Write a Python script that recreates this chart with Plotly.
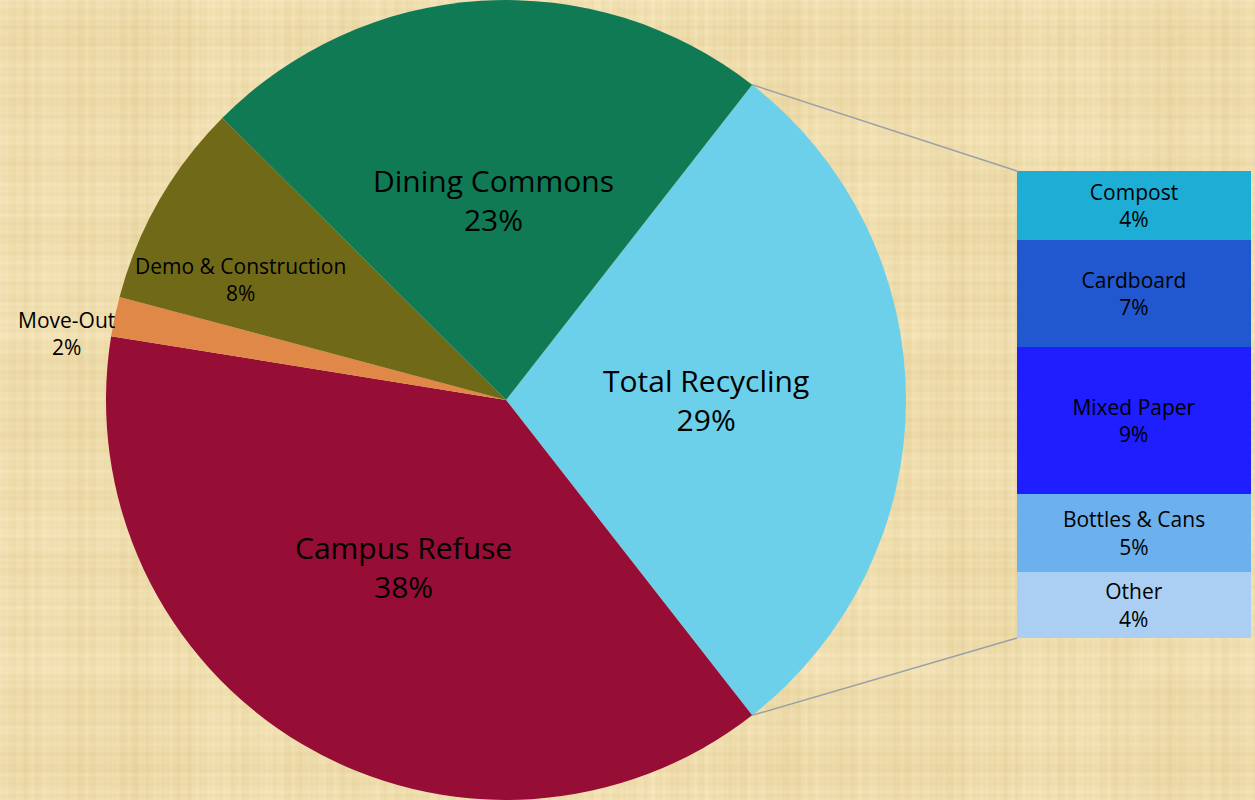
import math
import zlib
import struct
import base64
import numpy as np
import plotly.graph_objects as go

# ---- data ----
pie_labels = ["Total Recycling", "Campus Refuse", "Move-Out", "Demo & Construction", "Dining Commons"]
pie_values = [28.9, 38.1, 1.6, 8.3, 23.1]
pie_colors = ["#6DD0EA", "#960D35", "#E08848", "#706A18", "#107A55"]

bar_labels = ["Compost", "Cardboard", "Mixed Paper", "Bottles & Cans", "Other"]
bar_values = [4.3, 6.6, 9.1, 4.8, 4.1]
bar_colors = ["#1EAED5", "#2158D0", "#1E1EFF", "#6DB0EE", "#AACFF2"]

# ---- layout geometry ----
W, H = 1255, 800
FONT = "Open Sans"
pie_cx_px, pie_r_px = 506, 400
pie_dom_x = [(pie_cx_px - pie_r_px) / W, (pie_cx_px + pie_r_px) / W]
pie_dom_y = [0, 1]
bar_dom_x = [1017 / W, 1251 / W]
bar_dom_y = [(H - 638) / H, (H - 171) / H]


# ---- parchment background texture (deterministic pattern) ----
def make_texture(w, h):
    xs = np.arange(w, dtype=float)
    ys = np.arange(h, dtype=float)
    col = (2.2 * np.sin(xs * 0.91) + 2.0 * np.sin(xs * 2.37 + 1.0) + 1.6 * np.sin(xs * 0.23 + 2.0)
           + 1.4 * np.sin(xs * 5.13 + 0.4) + 1.0 * np.sin(xs * 0.061 + 0.7))
    row = (2.2 * np.sin(ys * 0.83 + 0.5) + 2.0 * np.sin(ys * 2.11 + 2.2) + 1.6 * np.sin(ys * 0.19 + 1.3)
           + 1.4 * np.sin(ys * 4.71 + 0.9) + 1.0 * np.sin(ys * 0.071 + 2.9))
    tile = ((np.floor(xs / 95)[None, :] + np.floor(ys / 85)[:, None]) % 2) * 2.0 - 1.0
    shade = col[None, :] + row[:, None] + tile * 1.0
    base = np.array([239.0, 221.0, 173.0])
    scale = np.array([0.8, 1.0, 1.6])
    img = base[None, None, :] + shade[:, :, None] * scale[None, None, :]
    img = np.clip(img, 0, 255).astype(np.uint8)
    raw = b"".join(b"\x00" + img[r].tobytes() for r in range(h))

    def chunk(t, d):
        c = struct.pack(">I", len(d)) + t + d
        return c + struct.pack(">I", zlib.crc32(t + d) & 0xFFFFFFFF)

    png = (b"\x89PNG\r\n\x1a\n" + chunk(b"IHDR", struct.pack(">IIBBBBB", w, h, 8, 2, 0, 0, 0))
           + chunk(b"IDAT", zlib.compress(raw, 9)) + chunk(b"IEND", b""))
    return "data:image/png;base64," + base64.b64encode(png).decode()


bg_src = make_texture(628, 400)

total = sum(pie_values)
rec_share = pie_values[0] / total
rotation = 90 - rec_share * 360 / 2

fig = go.Figure()
fig.add_trace(go.Pie(
    labels=pie_labels, values=pie_values, sort=False, direction="clockwise",
    rotation=rotation, marker=dict(colors=pie_colors, line=dict(width=0)),
    textinfo="none", hoverinfo="label+percent", showlegend=False,
    domain=dict(x=pie_dom_x, y=pie_dom_y),
))

for lab, v, c in zip(bar_labels, bar_values, bar_colors):
    fig.add_trace(go.Bar(
        x=[0], y=[v], width=[1], marker=dict(color=c, line=dict(width=0)),
        text=[f"{lab}<br>{v:.0f}%"], textposition="inside", insidetextanchor="middle",
        textfont=dict(family=FONT, size=21, color="black"), textangle=0,
        showlegend=False, hoverinfo="text", xaxis="x", yaxis="y",
    ))

# pie label annotations placed along each slice's bisector
cx = (pie_dom_x[0] + pie_dom_x[1]) / 2
cy = (pie_dom_y[0] + pie_dom_y[1]) / 2
r_frac = {"Total Recycling": 0.5, "Campus Refuse": 0.49, "Move-Out": 1.11,
          "Demo & Construction": 0.73, "Dining Commons": 0.5}
a_off = {"Total Recycling": 0, "Campus Refuse": 1, "Move-Out": -3.5,
         "Demo & Construction": -5.5, "Dining Commons": 0}
sizes = {"Total Recycling": 30, "Campus Refuse": 30, "Move-Out": 21,
         "Demo & Construction": 21, "Dining Commons": 30}
ang = rotation
annotations = []
for lab, v in zip(pie_labels, pie_values):
    span = v / total * 360
    mid = math.radians(ang + span / 2 + a_off[lab])
    ang += span
    rr = pie_r_px * r_frac[lab]
    px = pie_cx_px + rr * math.sin(mid)
    py = H * (1 - cy) - rr * math.cos(mid)
    annotations.append(dict(
        x=px / W, y=1 - py / H, xref="paper", yref="paper", showarrow=False,
        text=f"{lab}<br>{v:.0f}%", font=dict(family=FONT, size=sizes[lab], color="black"),
        xanchor="center", yanchor="middle",
    ))

# connector lines from the recycling slice edges to the bar
shapes = []
a_start = math.radians(rotation)
a_end = math.radians(rotation + rec_share * 360)
for a, by in [(a_start, bar_dom_y[1]), (a_end, bar_dom_y[0])]:
    px = pie_cx_px + pie_r_px * math.sin(a)
    py = H * (1 - cy) - pie_r_px * math.cos(a)
    shapes.append(dict(type="line", xref="paper", yref="paper",
                       x0=px / W, y0=1 - py / H, x1=bar_dom_x[0], y1=by,
                       line=dict(color="#9AA0A8", width=1.5)))

fig.update_layout(
    width=W, height=H, margin=dict(l=0, r=0, t=0, b=0),
    paper_bgcolor="#ECD8A6", plot_bgcolor="rgba(0,0,0,0)",
    barmode="stack", bargap=0,
    xaxis=dict(domain=bar_dom_x, range=[-0.5, 0.5], visible=False, fixedrange=True),
    yaxis=dict(domain=bar_dom_y, range=[sum(bar_values), 0], visible=False, fixedrange=True),
    annotations=annotations, shapes=shapes,
    images=[dict(source=bg_src, xref="paper", yref="paper", x=0, y=1, sizex=1, sizey=1,
                 xanchor="left", yanchor="top", sizing="stretch", layer="below")],
    font=dict(family=FONT),
)

fig.write_html("out.html", config={"displayModeBar": False},
               post_script="document.body.style.margin='0';")
